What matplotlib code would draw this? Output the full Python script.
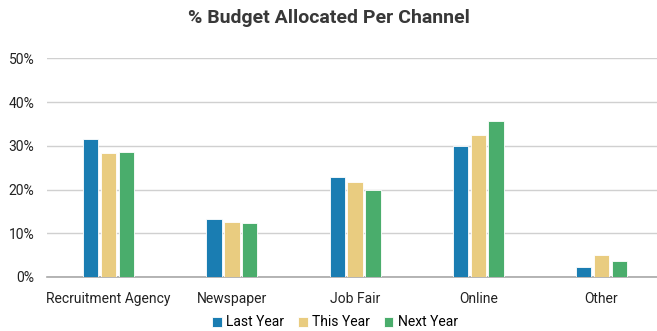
import matplotlib.pyplot as plt
import numpy as np

channels = ["Recruitment Agency", "Newspaper", "Job Fair", "Online", "Other"]
series = ["Last Year", "This Year", "Next Year"]
last_year = [31.6, 13.2, 22.8, 30.0, 2.3]
this_year = [28.3, 12.5, 21.7, 32.4, 5.0]
next_year = [28.5, 12.4, 19.8, 35.6, 3.7]
colors = ["#1a7db2", "#e9cc80", "#4aad6c"]

plt.rcParams['font.family'] = ['Roboto', 'DejaVu Sans']

fig = plt.figure(figsize=(6.57, 3.31), dpi=100)
ax = fig.add_axes([47 / 657, 1 - 277 / 331, 1 - 47 / 657, (277 - 58.3) / 331])

x = np.arange(len(channels))
width = 0.125
step = 0.145
for i, (vals, name) in enumerate(zip([last_year, this_year, next_year], series)):
    ax.bar(x + (i - 1) * step, vals, width, color=colors[i], label=name,
           edgecolor="white", linewidth=0.6, zorder=3)

ax.set_xlim(-0.5, 4.45)
ax.set_ylim(0, 50)
ax.set_yticks(range(0, 51, 10))
ax.set_yticklabels([f"{v}%" for v in range(0, 51, 10)])
ax.set_xticks(x)
ax.set_xticklabels(channels)
ax.tick_params(length=0, labelsize=10, colors="#222222")
ax.tick_params(axis='y', pad=9)
ax.tick_params(axis='x', pad=11)
ax.grid(axis='y', color="#d0d0d0", linewidth=1, zorder=0)
for s in ["top", "right", "left"]:
    ax.spines[s].set_visible(False)
ax.spines["bottom"].set_color("#a8a8a8")
ax.spines["bottom"].set_linewidth(1.2)

fig.text(0.5, 1 - 18 / 331, "% Budget Allocated Per Channel", ha="center", va="center",
         fontsize=14, fontweight="bold", color="#383838")

fig.legend(loc="center", bbox_to_anchor=(335 / 657, 1 - 322.5 / 331), ncol=3, frameon=False,
           fontsize=10, handlelength=0.7, handleheight=0.7, handletextpad=0.3, columnspacing=1.0)

fig.savefig("out.png", dpi=100)
